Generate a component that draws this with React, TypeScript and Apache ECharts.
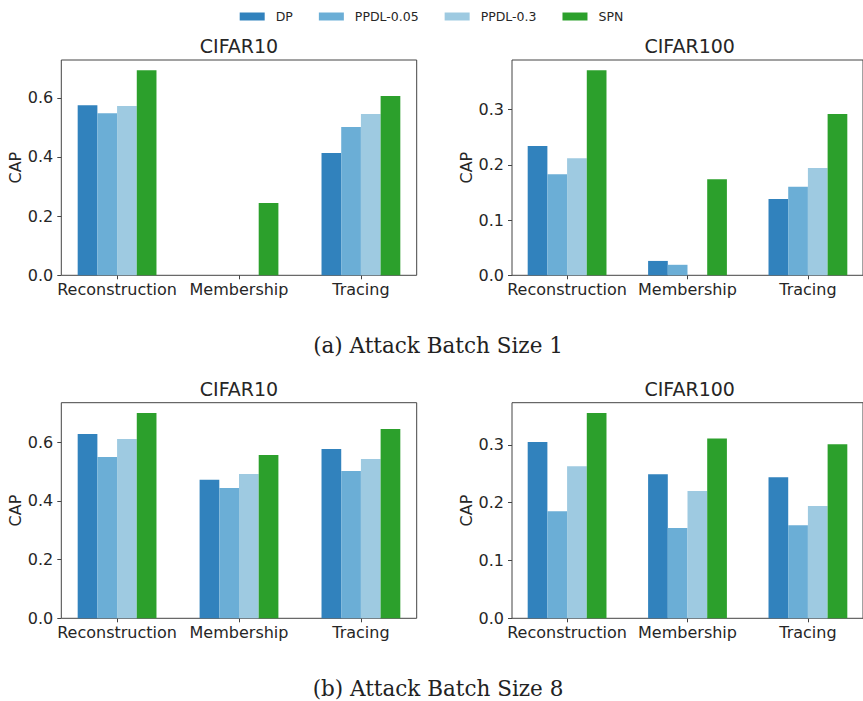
import React, { useEffect, useRef } from "react";
import * as echarts from "echarts";

const categories = ["Reconstruction", "Membership", "Tracing"];
const seriesNames = ["DP", "PPDL-0.05", "PPDL-0.3", "SPN"];
const seriesColors = ["#3182bd", "#6baed6", "#9ecae1", "#2ca02c"];

// (a) Attack Batch Size 1
const b1Cifar10DP = [0.575, 0, 0.413];
const b1Cifar10PPDL005 = [0.548, 0, 0.501];
const b1Cifar10PPDL03 = [0.572, 0, 0.545];
const b1Cifar10SPN = [0.693, 0.244, 0.606];

const b1Cifar100DP = [0.234, 0.026, 0.138];
const b1Cifar100PPDL005 = [0.183, 0.019, 0.16];
const b1Cifar100PPDL03 = [0.212, 0, 0.194];
const b1Cifar100SPN = [0.371, 0.174, 0.292];

// (b) Attack Batch Size 8
const b8Cifar10DP = [0.628, 0.472, 0.577];
const b8Cifar10PPDL005 = [0.55, 0.444, 0.502];
const b8Cifar10PPDL03 = [0.611, 0.492, 0.543];
const b8Cifar10SPN = [0.7, 0.557, 0.645];

const b8Cifar100DP = [0.305, 0.249, 0.244];
const b8Cifar100PPDL005 = [0.185, 0.156, 0.161];
const b8Cifar100PPDL03 = [0.263, 0.22, 0.194];
const b8Cifar100SPN = [0.355, 0.311, 0.301];

const ticksCifar10 = [0, 0.2, 0.4, 0.6];
const ticksCifar100 = [0, 0.1, 0.2, 0.3];
const xTickValues = [0, 1, 2];

const panelTitles = ["CIFAR10", "CIFAR100", "CIFAR10", "CIFAR100"];
const captions = ["(a) Attack Batch Size 1", "(b) Attack Batch Size 8"];

const FONT = "DejaVu Sans";
const TEXT = "#262626";
const SPINE = "#444444";

export default function App() {
  const ref = useRef<HTMLDivElement>(null);

  useEffect(() => {
    if (!ref.current) return;
    const chart = echarts.init(ref.current, null, { renderer: "svg" });

    const panels = [
      { data: [b1Cifar10DP, b1Cifar10PPDL005, b1Cifar10PPDL03, b1Cifar10SPN], ticks: ticksCifar10 },
      { data: [b1Cifar100DP, b1Cifar100PPDL005, b1Cifar100PPDL03, b1Cifar100SPN], ticks: ticksCifar100 },
      { data: [b8Cifar10DP, b8Cifar10PPDL005, b8Cifar10PPDL03, b8Cifar10SPN], ticks: ticksCifar10 },
      { data: [b8Cifar100DP, b8Cifar100PPDL005, b8Cifar100PPDL03, b8Cifar100SPN], ticks: ticksCifar100 },
    ];

    const gridW = 355.4;
    const gridLefts = [61.3, 512, 61.3, 512];
    const gridTops = [60, 60, 402.7, 402.7];
    const gridHs = [215.3, 215.3, 215.6, 215.6];
    const nameGaps = [38, 37, 38, 37];
    const titleYs = [46, 46, 389, 389];

    const grid = panels.map((_, i) => ({
      left: gridLefts[i],
      top: gridTops[i],
      width: gridW,
      height: gridHs[i],
      show: true,
      borderColor: SPINE,
      borderWidth: 1,
      backgroundColor: "transparent",
      containLabel: false,
    }));

    const xAxis = panels.map((_, i) => ({
      type: "value",
      gridIndex: i,
      position: "bottom",
      min: -0.4575,
      max: 2.4575,
      splitLine: { show: false },
      axisLine: { show: false, onZero: false },
      axisTick: { show: true, customValues: xTickValues, length: 4, lineStyle: { color: SPINE } },
      axisLabel: {
        show: true,
        customValues: xTickValues,
        formatter: (v: number) => categories[Math.round(v)] ?? "",
        fontSize: 16,
        fontFamily: FONT,
        color: TEXT,
        margin: 6,
      },
    }));

    const yAxis = panels.map((p, i) => {
      const maxVal = Math.max(...p.data.flat()) * 1.05;
      return {
        type: "value",
        gridIndex: i,
        position: "left",
        min: 0,
        max: maxVal,
        splitLine: { show: false },
        axisLine: { show: false, onZero: false },
        axisTick: { show: true, customValues: p.ticks, length: 4, lineStyle: { color: SPINE } },
        axisLabel: {
          show: true,
          customValues: p.ticks,
          formatter: (v: number) => v.toFixed(1),
          fontSize: 16,
          fontFamily: FONT,
          color: TEXT,
          margin: 8,
        },
        name: "CAP",
        nameLocation: "middle",
        nameGap: nameGaps[i],
        nameTextStyle: { fontSize: 16, fontFamily: FONT, color: TEXT },
      };
    });

    const series: any[] = [];
    panels.forEach((p, gi) => {
      p.data.forEach((arr, si) => {
        series.push({
          type: "bar",
          name: seriesNames[si],
          xAxisIndex: gi,
          yAxisIndex: gi,
          data: arr.map((v, j) => [j, v]),
          barWidth: 19.7,
          barGap: "0%",
          itemStyle: { color: seriesColors[si] },
          emphasis: { disabled: true },
        });
      });
    });

    const graphic: any[] = [];
    panels.forEach((_, i) => {
      graphic.push({
        type: "text",
        x: gridLefts[i] + gridW / 2,
        y: titleYs[i],
        style: {
          text: panelTitles[i],
          fontSize: 19,
          fontFamily: FONT,
          fill: TEXT,
          align: "center",
          verticalAlign: "middle",
        },
      });
    });
    const captionYs = [345, 688];
    captions.forEach((c, i) => {
      graphic.push({
        type: "text",
        x: 438,
        y: captionYs[i],
        style: {
          text: c,
          fontSize: 21.5,
          fontFamily: "DejaVu Serif",
          fill: "#222222",
          align: "center",
          verticalAlign: "middle",
        },
      });
    });

    chart.setOption({
      animation: false,
      backgroundColor: "#ffffff",
      legend: {
        top: 5,
        left: "center",
        icon: "rect",
        itemWidth: 25,
        itemHeight: 8,
        itemGap: 26,
        data: seriesNames,
        textStyle: { fontSize: 12.5, fontFamily: FONT, color: TEXT, padding: [0, 0, 0, 6] },
      },
      grid,
      xAxis,
      yAxis,
      series,
      graphic,
    });

    return () => chart.dispose();
  }, []);

  return (
    <div
      ref={ref}
      style={{ position: "fixed", left: 0, top: 0, width: 863, height: 701, background: "#fff" }}
    />
  );
}
